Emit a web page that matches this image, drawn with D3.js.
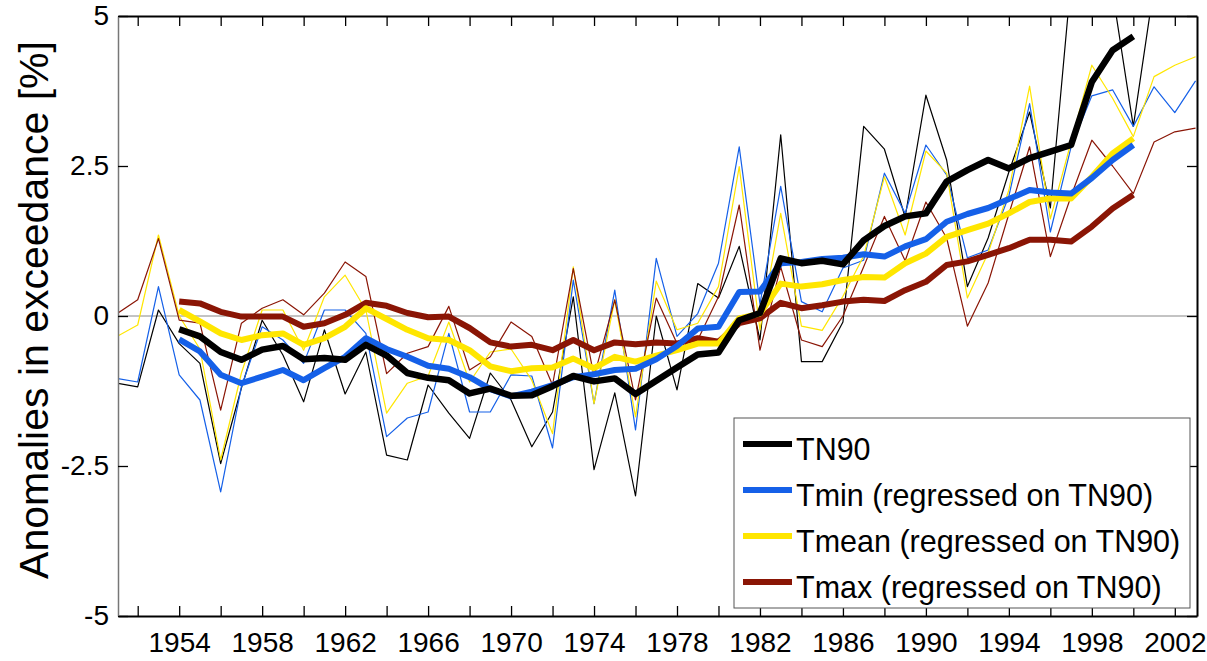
<!DOCTYPE html>
<html>
<head>
<meta charset="utf-8">
<script src="https://cdn.jsdelivr.net/npm/d3@7"></script>
<style>
  body { margin: 0; background: #fff; }
  svg text { font-family: "Liberation Sans", Arial, sans-serif; fill: #000; }
</style>
</head>
<body>
<div id="chart"></div>
<script>
// data
const annualYears = [1951,1952,1953,1954,1955,1956,1957,1958,1959,1960,1961,1962,1963,1964,1965,1966,1967,1968,1969,1970,
  1971,1972,1973,1974,1975,1976,1977,1978,1979,1980,1981,1982,1983,1984,1985,1986,1987,1988,1989,1990,
  1991,1992,1993,1994,1995,1996,1997,1998,1999,2000,2001,2002,2003];

const tn90Annual = [-1.12,-1.18,0.1,-0.46,-0.79,-2.46,-1.2,-0.07,-0.65,-1.43,-0.23,-1.3,-0.6,-2.32,-2.4,-1.15,-1.62,-2.04,-0.95,-1.4,
  -2.18,-1.6,0.32,-2.56,-1.28,-3.0,0.0,-1.23,0.54,0.3,1.16,-0.4,3.02,-0.76,-0.76,-0.1,3.16,2.78,1.65,3.68,
  2.6,0.49,1.3,2.4,3.4,1.8,5.6,5.8,5.4,3.16,5.5,6.0,6.0];
const tminAnnual = [-1.04,-1.1,0.49,-0.98,-1.4,-2.93,-1.18,-0.18,-0.4,-0.79,0.1,0.1,-0.29,-2.01,-1.7,-1.6,-0.29,-1.6,-1.6,-0.98,
  -1.0,-2.2,0.6,-1.46,0.43,-1.9,0.96,-0.34,0.04,0.88,2.82,0.2,2.16,0.24,0.07,0.8,0.93,2.38,1.71,2.85,
  2.35,0.97,1.1,2.0,3.54,1.4,2.82,3.67,3.77,3.16,3.82,3.39,3.92];
const tmeanAnnual = [-0.34,-0.15,1.35,0.0,-0.55,-2.4,-0.95,0.1,0.1,-0.57,0.32,0.68,0.1,-1.62,-1.12,-1.0,-0.1,-1.1,-0.6,-0.55,
  -1.07,-1.96,0.82,-1.46,0.27,-1.68,0.58,-0.23,-0.12,0.49,2.49,-0.23,1.71,-0.17,-0.24,0.33,1.0,2.32,1.35,2.75,
  2.38,0.3,1.05,2.1,3.83,1.62,2.9,4.18,3.63,2.99,3.99,4.18,4.32];
const tmaxAnnual = [0.04,0.27,1.29,-0.07,-0.12,-1.57,-0.12,0.13,0.27,0.02,0.38,0.9,0.66,-0.96,-0.62,-0.51,0.16,-0.9,-0.68,-0.1,
  -0.34,-1.15,0.79,-1.01,0.27,-1.4,0.3,-0.46,-0.4,0.32,1.85,-0.57,0.82,-0.4,-0.51,0.0,0.82,1.66,0.92,1.9,
  1.3,-0.17,0.55,1.7,2.82,0.99,2.0,2.93,2.5,2.04,2.9,3.07,3.13];

const smoothYears = [1954,1955,1956,1957,1958,1959,1960,1961,1962,1963,1964,1965,1966,1967,1968,1969,1970,
  1971,1972,1973,1974,1975,1976,1977,1978,1979,1980,1981,1982,1983,1984,1985,1986,1987,1988,1989,1990,
  1991,1992,1993,1994,1995,1996,1997,1998,1999,2000];

const tn90Smooth = [-0.22,-0.34,-0.6,-0.73,-0.56,-0.5,-0.72,-0.7,-0.73,-0.48,-0.66,-0.95,-1.03,-1.07,-1.29,-1.21,-1.33,
  -1.32,-1.17,-1.0,-1.09,-1.04,-1.3,-1.08,-0.86,-0.64,-0.61,-0.07,0.05,0.96,0.88,0.92,0.86,1.26,1.5,1.66,1.71,
  2.24,2.43,2.6,2.46,2.63,2.74,2.85,3.9,4.43,4.66];
const tminSmooth = [-0.39,-0.59,-0.98,-1.12,-1.01,-0.9,-1.07,-0.87,-0.68,-0.37,-0.55,-0.68,-0.83,-0.88,-1.02,-1.22,-1.34,
  -1.26,-1.15,-1.02,-0.97,-0.9,-0.88,-0.72,-0.5,-0.21,-0.18,0.4,0.41,0.88,0.9,0.95,0.97,1.03,0.99,1.16,1.28,
  1.57,1.7,1.8,1.95,2.1,2.06,2.04,2.3,2.6,2.85];
const tmeanSmooth = [0.1,-0.09,-0.29,-0.4,-0.32,-0.29,-0.48,-0.37,-0.18,0.13,-0.05,-0.23,-0.37,-0.4,-0.57,-0.84,-0.92,
  -0.87,-0.86,-0.71,-0.87,-0.68,-0.76,-0.66,-0.57,-0.46,-0.46,-0.04,0.04,0.54,0.49,0.53,0.6,0.65,0.64,0.88,1.04,
  1.32,1.43,1.54,1.71,1.9,1.96,1.96,2.32,2.71,2.96];
const tmaxSmooth = [0.24,0.21,0.07,-0.01,-0.01,-0.01,-0.18,-0.12,0.02,0.22,0.17,0.05,-0.02,-0.01,-0.2,-0.44,-0.51,
  -0.48,-0.57,-0.4,-0.57,-0.44,-0.47,-0.44,-0.46,-0.37,-0.43,-0.12,-0.04,0.22,0.13,0.18,0.24,0.27,0.25,0.43,0.57,
  0.85,0.91,1.02,1.13,1.27,1.27,1.24,1.49,1.79,2.02];

const seriesNames = ["TN90", "Tmin (regressed on TN90)", "Tmean (regressed on TN90)", "Tmax (regressed on TN90)"];
const seriesColors = ["#000000", "#1560e8", "#ffe600", "#8a1505"];

const xTickYears = [1952,1954,1956,1958,1960,1962,1964,1966,1968,1970,1972,1974,1976,1978,1980,
  1982,1984,1986,1988,1990,1992,1994,1996,1998,2000,2002];
const xTickLabels = ["1954","1958","1962","1966","1970","1974","1978","1982","1986","1990","1994","1998","2002"];
const yTicks = [-5, -2.5, 0, 2.5, 5];
const yTickLabels = ["-5", "-2.5", "0", "2.5", "5"];

// set the dimensions and margins of the graph
const margin = {top: 16, right: 10, bottom: 45, left: 118},
  width = 1207 - margin.left - margin.right,
  height = 661 - margin.top - margin.bottom;

const svg = d3.select("#chart")
  .append("svg")
    .attr("width", width + margin.left + margin.right)
    .attr("height", height + margin.top + margin.bottom)
  .append("g")
    .attr("transform", "translate(" + margin.left + "," + margin.top + ")");

const x = d3.scaleLinear().domain([1951.05, 2003.07]).range([0, width]);
const y = d3.scaleLinear().domain([-5, 5]).range([height, 0]);

svg.append("clipPath").attr("id", "plotclip")
  .append("rect").attr("width", width).attr("height", height);

// zero line
svg.append("line")
  .attr("x1", 0).attr("x2", width)
  .attr("y1", y(0)).attr("y2", y(0))
  .attr("stroke", "#888").attr("stroke-width", 1);

const line = d3.line()
  .x(d => x(d.year))
  .y(d => y(d.value));

function zip(years, values) {
  return years.map((yr, i) => ({year: yr, value: values[i]}));
}

const annual = [tn90Annual, tminAnnual, tmeanAnnual, tmaxAnnual];
const smooth = [tn90Smooth, tminSmooth, tmeanSmooth, tmaxSmooth];

const plot = svg.append("g").attr("clip-path", "url(#plotclip)");

// thin yearly lines
annual.forEach((vals, i) => {
  plot.append("path")
    .datum(zip(annualYears, vals))
    .attr("fill", "none")
    .attr("stroke", seriesColors[i])
    .attr("stroke-width", 1.2)
    .attr("stroke-linejoin", "round")
    .attr("d", line);
});

// thick smoothed lines, TN90 drawn last
[3, 2, 1, 0].forEach(i => {
  plot.append("path")
    .datum(zip(smoothYears, smooth[i]))
    .attr("fill", "none")
    .attr("stroke", seriesColors[i])
    .attr("stroke-width", i === 0 ? 6.5 : 6)
    .attr("stroke-linejoin", "round")
    .attr("d", line);
});

// axes, ticks pointing inward
const fmtX = d => xTickLabels.includes(String(d)) ? String(d) : "";

svg.append("g")
  .attr("transform", "translate(0," + height + ")")
  .call(d3.axisBottom(x).tickValues(xTickYears).tickFormat(fmtX).tickSize(-10).tickSizeOuter(0).tickPadding(16));

svg.append("g")
  .call(d3.axisTop(x).tickValues(xTickYears).tickFormat("").tickSize(-10).tickSizeOuter(0));

const yAxis = svg.append("g")
  .call(d3.axisLeft(y).tickValues(yTicks).tickFormat((d, i) => yTickLabels[i]).tickSize(-10).tickSizeOuter(0).tickPadding(9));

svg.append("g")
  .attr("transform", "translate(" + width + ",0)")
  .call(d3.axisRight(y).tickValues(yTicks).tickFormat("").tickSize(-10).tickSizeOuter(0));

svg.selectAll(".domain").attr("stroke", "#000").attr("stroke-width", 2);
yAxis.select(".domain").attr("stroke", "#777").attr("stroke-width", 1.5);
svg.selectAll(".tick line").attr("stroke", "#000").attr("stroke-width", 1.3);
svg.selectAll(".tick text").style("font-size", "28px");

// y axis title
svg.append("text")
  .attr("transform", "translate(" + (48 - margin.left) + "," + (310 - margin.top) + ") rotate(-90)")
  .attr("text-anchor", "middle")
  .style("font-size", "41px")
  .text("Anomalies in exceedance [%]");

// legend
const legend = svg.append("g")
  .attr("transform", "translate(" + (734 - margin.left) + "," + (418 - margin.top) + ")");

legend.append("rect")
  .attr("width", 456).attr("height", 190)
  .attr("fill", "#fff").attr("stroke", "#555").attr("stroke-width", 1);

seriesNames.forEach((name, i) => {
  const rowY = 26 + i * 46;
  legend.append("line")
    .attr("x1", 9).attr("x2", 58)
    .attr("y1", rowY).attr("y2", rowY)
    .attr("stroke", seriesColors[i]).attr("stroke-width", 6);
  legend.append("text")
    .attr("x", 62).attr("y", rowY + 16)
    .style("font-size", "30.5px")
    .text(name);
});
</script>
</body>
</html>
